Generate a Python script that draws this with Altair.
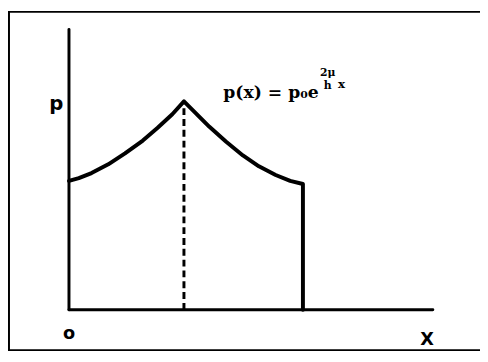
import altair as alt
import pandas as pd

# Curve p(x): rising branch, then falling branch, then drop to the x axis
curve_x = [0.00, 0.27, 0.62, 1.08, 1.54, 2.03, 2.43, 2.84, 3.16,
           3.51, 3.86, 4.32, 4.78, 5.22, 5.68, 6.08, 6.43, 6.43]
curve_p = [4.60, 4.70, 4.88, 5.19, 5.58, 6.04, 6.49, 6.98, 7.44,
           6.98, 6.53, 6.00, 5.51, 5.12, 4.81, 4.60, 4.49, 0.00]

# Axis extents (data units)
x_axis_end = 10.0
p_axis_end = 10.0

# Peak position for the dashed line
peak_x = 3.16
peak_p = 7.44

# Labels
label_p = "p"
label_o = "o"
label_x = "X"
formula_main = "p(x) = p₀e"
formula_num = "2μ"
formula_den = "h"
formula_x = "x"

W, H = 480, 346
xs = alt.Scale(domain=[-1.676, 11.297], nice=False, zero=False)
ys = alt.Scale(domain=[-1.474, 10.667], nice=False, zero=False)

df_curve = pd.DataFrame({"x": curve_x, "p": curve_p, "i": list(range(len(curve_x)))})

curve = alt.Chart(df_curve).mark_line(
    color="black", strokeWidth=4, strokeCap="round", strokeJoin="round"
).encode(
    x=alt.X("x:Q", scale=xs, axis=None),
    y=alt.Y("p:Q", scale=ys, axis=None),
    order="i:O",
)

df_axes = pd.DataFrame({
    "x": [0.0, 0.0],
    "x2": [0.0, x_axis_end],
    "y": [0.0, 0.0],
    "y2": [p_axis_end, 0.0],
})
axes = alt.Chart(df_axes).mark_rule(color="black", strokeWidth=3, strokeCap="round").encode(
    x=alt.X("x:Q", scale=xs, axis=None), x2="x2:Q",
    y=alt.Y("y:Q", scale=ys, axis=None), y2="y2:Q",
)

df_dash = pd.DataFrame({"x": [peak_x], "y": [0.0], "y2": [peak_p]})
dash = alt.Chart(df_dash).mark_rule(color="black", strokeWidth=3, strokeDash=[7, 4]).encode(
    x=alt.X("x:Q", scale=xs, axis=None),
    y=alt.Y("y:Q", scale=ys, axis=None), y2="y2:Q",
)

def label(text, x, y, size, font, weight="bold", align="center"):
    d = pd.DataFrame({"t": [text], "x": [x], "y": [y]})
    return alt.Chart(d).mark_text(
        fontSize=size, font=font, fontWeight=weight, align=align,
        baseline="middle", color="black",
    ).encode(
        x=alt.X("x:Q", scale=xs, axis=None),
        y=alt.Y("y:Q", scale=ys, axis=None),
        text="t:N",
    )

labels = [
    label(label_p, -0.35, 7.35, 20, "DejaVu Sans"),
    label(label_o, 0.0, -0.88, 18, "DejaVu Sans"),
    label(label_x, 9.84, -1.09, 18, "DejaVu Sans"),
    label(formula_main, 4.24, 7.72, 17.5, "DejaVu Serif", align="left"),
    label(formula_num, 7.11, 8.45, 11, "DejaVu Serif"),
    label(formula_den, 7.11, 7.98, 11, "DejaVu Serif"),
    label(formula_x, 7.49, 8.07, 12, "DejaVu Serif"),
]

one = pd.DataFrame({"a": [0]})
frame = [
    alt.Chart(one).mark_rule(color="black", strokeWidth=2).encode(
        x=alt.value(1), y=alt.value(0), y2=alt.value(H)),
    alt.Chart(one).mark_rule(color="black", strokeWidth=2).encode(
        x=alt.value(0), x2=alt.value(W), y=alt.value(1)),
    alt.Chart(one).mark_rule(color="black", strokeWidth=2).encode(
        x=alt.value(0), x2=alt.value(W), y=alt.value(H - 1)),
]

chart = alt.layer(*frame, axes, dash, curve, *labels).properties(
    width=W, height=H, padding=0, autosize="none", background="white"
).configure_view(stroke=None)

chart.save("out.html", embed_options={"renderer": "svg", "actions": False})
